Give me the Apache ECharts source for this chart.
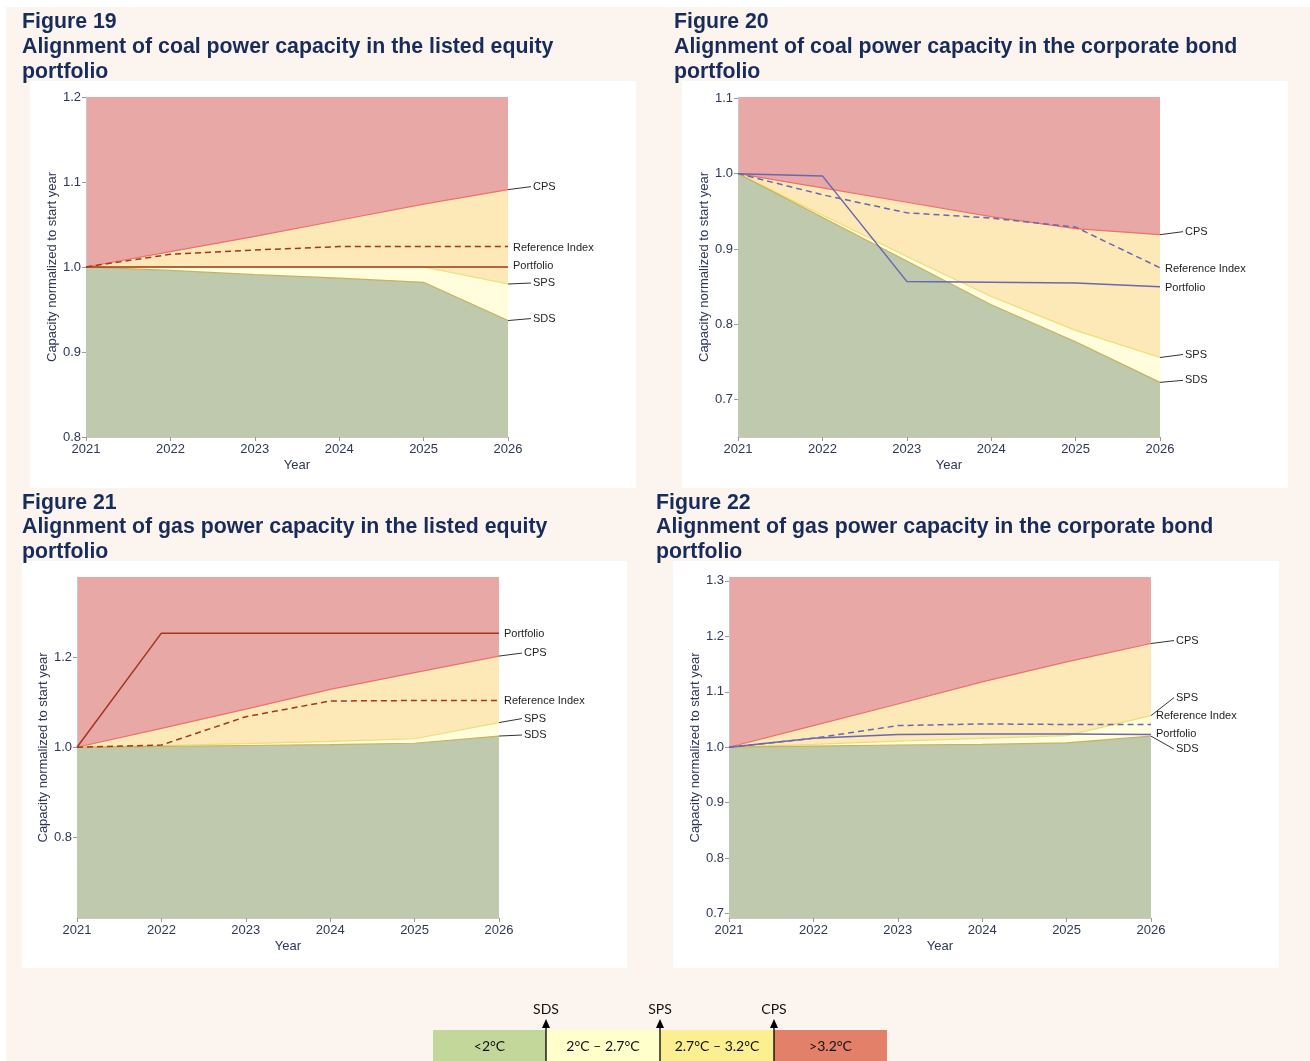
<!DOCTYPE html>
<html><head><meta charset="utf-8">
<script src="https://cdn.jsdelivr.net/npm/echarts@6/dist/echarts.min.js"></script>
<style>
html,body{margin:0;padding:0;background:#fff;}
#bg{position:absolute;left:6px;top:7px;width:1304px;height:1054px;background:#FCF4EF;}
.panel{position:absolute;background:#fff;}
#c{position:absolute;left:0;top:0;width:1310px;height:1061px;}
</style>
</head><body>
<div id="bg"></div>
<div class="panel" style="left:30px;top:81px;width:606px;height:407px"></div>
<div class="panel" style="left:682px;top:81px;width:606px;height:407px"></div>
<div class="panel" style="left:22px;top:561px;width:605px;height:407px"></div>
<div class="panel" style="left:673px;top:561px;width:606px;height:407px"></div>
<div id="c"></div>
<script>
// ---------- DATA ----------
const years = ['2021', '2022', '2023', '2024', '2025', '2026'];

// Figure 19 – coal, listed equity
const f19_cps  = [1.000, 1.018, 1.036, 1.055, 1.074, 1.091];
const f19_sps  = [1.000, 1.000, 1.000, 1.000, 1.000, 0.980];
const f19_sds  = [1.000, 0.996, 0.991, 0.987, 0.982, 0.937];
const f19_ref  = [1.000, 1.015, 1.020, 1.024, 1.024, 1.024];
const f19_port = [1.000, 1.000, 1.000, 1.000, 1.000, 1.000];
const f19_ticks = [0.8, 0.9, 1.0, 1.1, 1.2];

// Figure 20 – coal, corporate bond
const f20_cps  = [1.000, 0.981, 0.962, 0.943, 0.927, 0.919];
const f20_sps  = [1.000, 0.945, 0.890, 0.837, 0.792, 0.756];
const f20_sds  = [1.000, 0.942, 0.884, 0.826, 0.777, 0.723];
const f20_ref  = [1.000, 0.972, 0.948, 0.941, 0.929, 0.875];
const f20_port = [1.000, 0.997, 0.857, 0.856, 0.855, 0.850];
const f20_ticks = [0.7, 0.8, 0.9, 1.0, 1.1];

// Figure 21 – gas, listed equity
const f21_cps  = [1.000, 1.042, 1.085, 1.129, 1.166, 1.203];
const f21_sps  = [1.000, 1.004, 1.008, 1.013, 1.019, 1.055];
const f21_sds  = [1.000, 1.002, 1.004, 1.006, 1.009, 1.025];
const f21_ref  = [1.000, 1.005, 1.068, 1.103, 1.104, 1.104];
const f21_port = [1.000, 1.254, 1.254, 1.254, 1.254, 1.254];
const f21_ticks = [0.8, 1.0, 1.2];

// Figure 22 – gas, corporate bond
const f22_cps  = [1.000, 1.039, 1.078, 1.118, 1.154, 1.187];
const f22_sps  = [1.000, 1.005, 1.011, 1.016, 1.021, 1.057];
const f22_sds  = [1.000, 1.002, 1.004, 1.005, 1.008, 1.020];
const f22_ref  = [1.000, 1.016, 1.039, 1.042, 1.041, 1.041];
const f22_port = [1.000, 1.016, 1.023, 1.024, 1.024, 1.023];
const f22_ticks = [0.7, 0.8, 0.9, 1.0, 1.1, 1.2, 1.3];

const titles = [
  'Figure 19\nAlignment of coal power capacity in the listed equity\nportfolio',
  'Figure 20\nAlignment of coal power capacity in the corporate bond\nportfolio',
  'Figure 21\nAlignment of gas power capacity in the listed equity\nportfolio',
  'Figure 22\nAlignment of gas power capacity in the corporate bond\nportfolio'
];
const legendBands = ['<2°C', '2°C – 2.7°C', '2.7°C – 3.2°C', '>3.2°C'];
const legendMarks = ['SDS', 'SPS', 'CPS'];

// ---------- LAYOUT / STYLE ----------
const EQ = '#A3361C', BD = '#6A66B2';
const panels = [
  {tx:22,  ty:10,  grid:[86, 97, 422, 340],  ymin:0.8,    ymax:1.2,   ticks:f19_ticks, col:EQ,
   d:{cps:f19_cps, sps:f19_sps, sds:f19_sds, ref:f19_ref, port:f19_port},
   lab:{cps:-3, ref:1, port:-1, sps:-1, sds:-2}},
  {tx:674, ty:10,  grid:[738, 97, 422, 340], ymin:0.6505, ymax:1.1017, ticks:f20_ticks, col:BD,
   d:{cps:f20_cps, sps:f20_sps, sds:f20_sds, ref:f20_ref, port:f20_port},
   lab:{cps:-3, ref:1, port:1, sps:-3, sds:-2}},
  {tx:22,  ty:490.5, grid:[77, 577, 422, 341], ymin:0.62,   ymax:1.379, ticks:f21_ticks, col:EQ,
   d:{cps:f21_cps, sps:f21_sps, sds:f21_sds, ref:f21_ref, port:f21_port},
   lab:{cps:-3, ref:0, port:1, sps:-4, sds:-1}},
  {tx:656, ty:490.5, grid:[729, 577, 422, 341], ymin:0.692, ymax:1.307, ticks:f22_ticks, col:BD,
   d:{cps:f22_cps, sps:f22_sps, sds:f22_sds, ref:f22_ref, port:f22_port},
   lab:{cps:-3, ref:-9, port:-1, sps:-18, sds:13}}
];
const TXT = '#2E3856';
const FONT = '"Liberation Sans", Arial, Helvetica, sans-serif';

const option = {animation:false, backgroundColor:'transparent', title:[], grid:[], xAxis:[], yAxis:[], series:[]};

panels.forEach((p, gi) => {
  option.title.push({text:titles[gi], left:p.tx, top:p.ty, padding:0,
    textStyle:{fontFamily:FONT, fontWeight:'bold', fontSize:21.3, color:'#182C5C', lineHeight:24.7}});
  option.grid.push({left:p.grid[0], top:p.grid[1], width:p.grid[2], height:p.grid[3],
    show:true, backgroundColor:'#E8A8A6', borderWidth:0, containLabel:false});
  option.xAxis.push({type:'category', gridIndex:gi, data:years, boundaryGap:false,
    axisLine:{show:true, lineStyle:{color:'#c8c8c8', width:1}},
    axisTick:{show:true, length:4, lineStyle:{color:'#9a9a9a'}},
    axisLabel:{margin:6, fontSize:13, color:TXT, fontFamily:FONT},
    splitLine:{show:false},
    name:'Year', nameLocation:'middle', nameGap:22,
    nameTextStyle:{fontSize:13, color:TXT, fontFamily:FONT}});
  option.yAxis.push({type:'value', gridIndex:gi, min:p.ymin, max:p.ymax,
    axisLine:{show:true, lineStyle:{color:'#c8c8c8', width:1}},
    axisTick:{show:true, length:4, lineStyle:{color:'#9a9a9a'}, customValues:p.ticks},
    axisLabel:{margin:5, fontSize:13, color:TXT, fontFamily:FONT, customValues:p.ticks,
      formatter:v => (Math.round(v*10)/10).toFixed(1)},
    splitLine:{show:false},
    name:'Capacity normalized to start year', nameLocation:'middle', nameGap:27,
    nameTextStyle:{fontSize:13, color:TXT, fontFamily:FONT}});
  const area = (name, data, fill, stroke) => ({type:'line', name, xAxisIndex:gi, yAxisIndex:gi, data,
    symbol:'none', silent:true, lineStyle:{color:stroke, width:1.2},
    areaStyle:{color:fill, opacity:1, origin:'start'}, z:2});
  option.series.push(area('CPS', p.d.cps, '#FDE8B8', '#EE6F6F'));
  option.series.push(area('SPS', p.d.sps, '#FFFDDC', '#EEDD76'));
  option.series.push(area('SDS', p.d.sds, '#BFC9AE', '#C6B35C'));
  option.series.push({type:'line', name:'Reference Index', xAxisIndex:gi, yAxisIndex:gi, data:p.d.ref,
    symbol:'none', silent:true, lineStyle:{color:p.col, width:1.5, type:[6,4]}, z:3});
  option.series.push({type:'line', name:'Portfolio', xAxisIndex:gi, yAxisIndex:gi, data:p.d.port,
    symbol:'none', silent:true, lineStyle:{color:p.col, width:1.5}, z:4});
});

const chart = echarts.init(document.getElementById('c'), null, {renderer:'canvas'});
chart.setOption(option);

// ---------- end labels (positions from the library's scales) ----------
const graphics = [];
const last = years.length - 1;
const labelDefs = [
  ['cps', 'CPS', true], ['ref', 'Reference Index', false], ['port', 'Portfolio', false],
  ['sps', 'SPS', true], ['sds', 'SDS', true]
];
panels.forEach((p, gi) => {
  labelDefs.forEach(([k, text, leader]) => {
    const pt = chart.convertToPixel({gridIndex:gi}, [years[last], p.d[k][last]]);
    const ly = pt[1] + p.lab[k];
    if (leader) {
      graphics.push({type:'line', silent:true, shape:{x1:pt[0], y1:pt[1], x2:pt[0]+23, y2:ly},
        style:{stroke:'#333', lineWidth:1}});
    }
    graphics.push({type:'text', silent:true, x:pt[0] + (leader ? 25 : 5), y:ly,
      style:{text, fill:'#1e1e1e', font:'11px ' + FONT, align:'left', verticalAlign:'middle',
             textAlign:'left', textVerticalAlign:'middle'}});
  });
});

// ---------- temperature legend ----------
const bandCols = ['#C4D79B', '#FFFFCC', '#FCEF92', '#E2806A'];
const bx = [433, 546, 660, 774, 887];
const LFONT = '14px Lato, "Open Sans", sans-serif';
legendBands.forEach((t, i) => {
  graphics.push({type:'rect', silent:true, shape:{x:bx[i], y:1030, width:bx[i+1]-bx[i], height:31},
    style:{fill:bandCols[i]}});
  graphics.push({type:'text', silent:true, x:(bx[i]+bx[i+1])/2, y:1046,
    style:{text:t, fill:'#111', font:LFONT, align:'center', verticalAlign:'middle',
           textAlign:'center', textVerticalAlign:'middle'}});
});
legendMarks.forEach((t, i) => {
  const x = bx[i+1];
  graphics.push({type:'line', silent:true, shape:{x1:x, y1:1061, x2:x, y2:1026}, style:{stroke:'#000', lineWidth:1.3}});
  graphics.push({type:'polygon', silent:true, shape:{points:[[x-4,1028],[x+4,1028],[x,1019]]}, style:{fill:'#000'}});
  graphics.push({type:'text', silent:true, x:x, y:1009,
    style:{text:t, fill:'#111', font:LFONT, align:'center', verticalAlign:'middle',
           textAlign:'center', textVerticalAlign:'middle'}});
});
chart.setOption({graphic:graphics});
</script>
</body></html>
